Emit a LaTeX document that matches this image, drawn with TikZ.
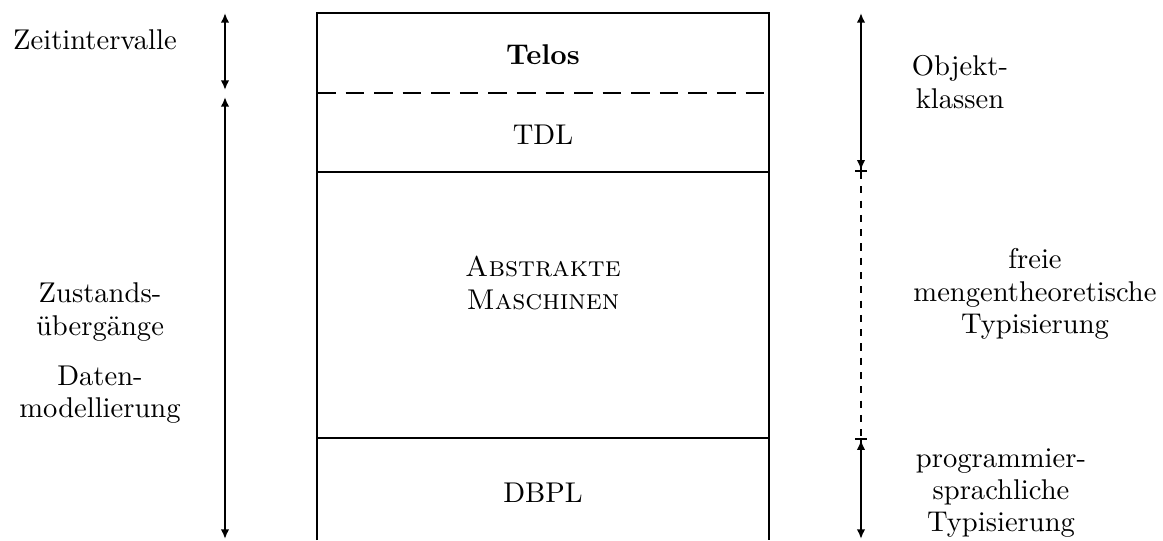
\documentclass[tikz,border=0pt]{standalone}
\usetikzlibrary{arrows.meta}
\begin{document}
\begin{tikzpicture}[x=0.35pt,y=-0.35pt,
  layer/.style={line width=1pt},
  span/.style={line width=0.75pt,{Latex[length=3.4pt,width=3pt]}-{Latex[length=3.4pt,width=3pt]}},
  spanbarend/.style={line width=0.75pt,{Latex[length=3.4pt,width=3pt]}-{Latex[length=3.4pt,width=3pt]Bar[width=4.2pt]}},
  spanbarstart/.style={line width=0.75pt,{Bar[width=4.2pt]Latex[length=3.4pt,width=3pt]}-{Latex[length=3.4pt,width=3pt]}},
  label/.style={align=center,inner sep=0pt,
    execute at begin node={\setlength{\baselineskip}{11.3pt}}}]
\useasboundingbox (0,0) rectangle (1163,540);

% corners of the layered box
\coordinate (tl) at (317,13);   \coordinate (tr) at (769,13);
\coordinate (dl) at (317,93);   \coordinate (dr) at (769,93);
\coordinate (al) at (317,172);  \coordinate (ar) at (769,172);
\coordinate (bl) at (317,438);  \coordinate (br) at (769,438);
\coordinate (el) at (317,540);  \coordinate (er) at (769,540);

% the box: open at the bottom
\draw[layer] (el) -- (tl) -- (tr) -- (er);
\draw[line width=0.8pt,dash pattern=on 6.5pt off 3.5pt] (dl) -- (dr);
\draw[layer] (al) -- (ar);
\draw[layer] (bl) -- (br);

% layer names
\node[label] (telos) at (543,55) {\textbf{Telos}};
\node[label] (tdl) at (543,135) {TDL};
\node[label] (am) at (543,283) {\textsc{Abstrakte}\\\textsc{Maschinen}};
\node[label] (dbpl) at (543,493) {DBPL};

% left scale
\coordinate (l0) at (225,13);
\coordinate (l1) at (225,90);
\coordinate (l2) at (225,97);
\coordinate (l3) at (225,539);
\draw[span] (l0) -- (l1);
\draw[span] (l2) -- (l3);

\node[label] (zeit) at (95,40) {Zeitintervalle};
\node[label] (zust) at (100,312) {Zustands-\\übergänge};
\node[label] (daten) at (100,395) {Daten-\\modellierung};

% right scale
\coordinate (r0) at (861,13);
\coordinate (r1) at (861,172);
\coordinate (r2) at (861,438);
\coordinate (r3) at (861,539);
\draw[spanbarend] (r0) -- (r1);
\draw[line width=0.75pt,dash pattern=on 2.5pt off 2.5pt] (r1) -- (r2);
\draw[spanbarstart] (r2) -- (r3);

\node[label] (objekt) at (960,82) {Objekt-\\klassen};
\node[label] (freie) at (1035,294) {freie\\mengentheoretische\\Typisierung};
\node[label] (prog) at (1001,493) {programmier-\\sprachliche\\Typisierung};
\end{tikzpicture}
\end{document}
